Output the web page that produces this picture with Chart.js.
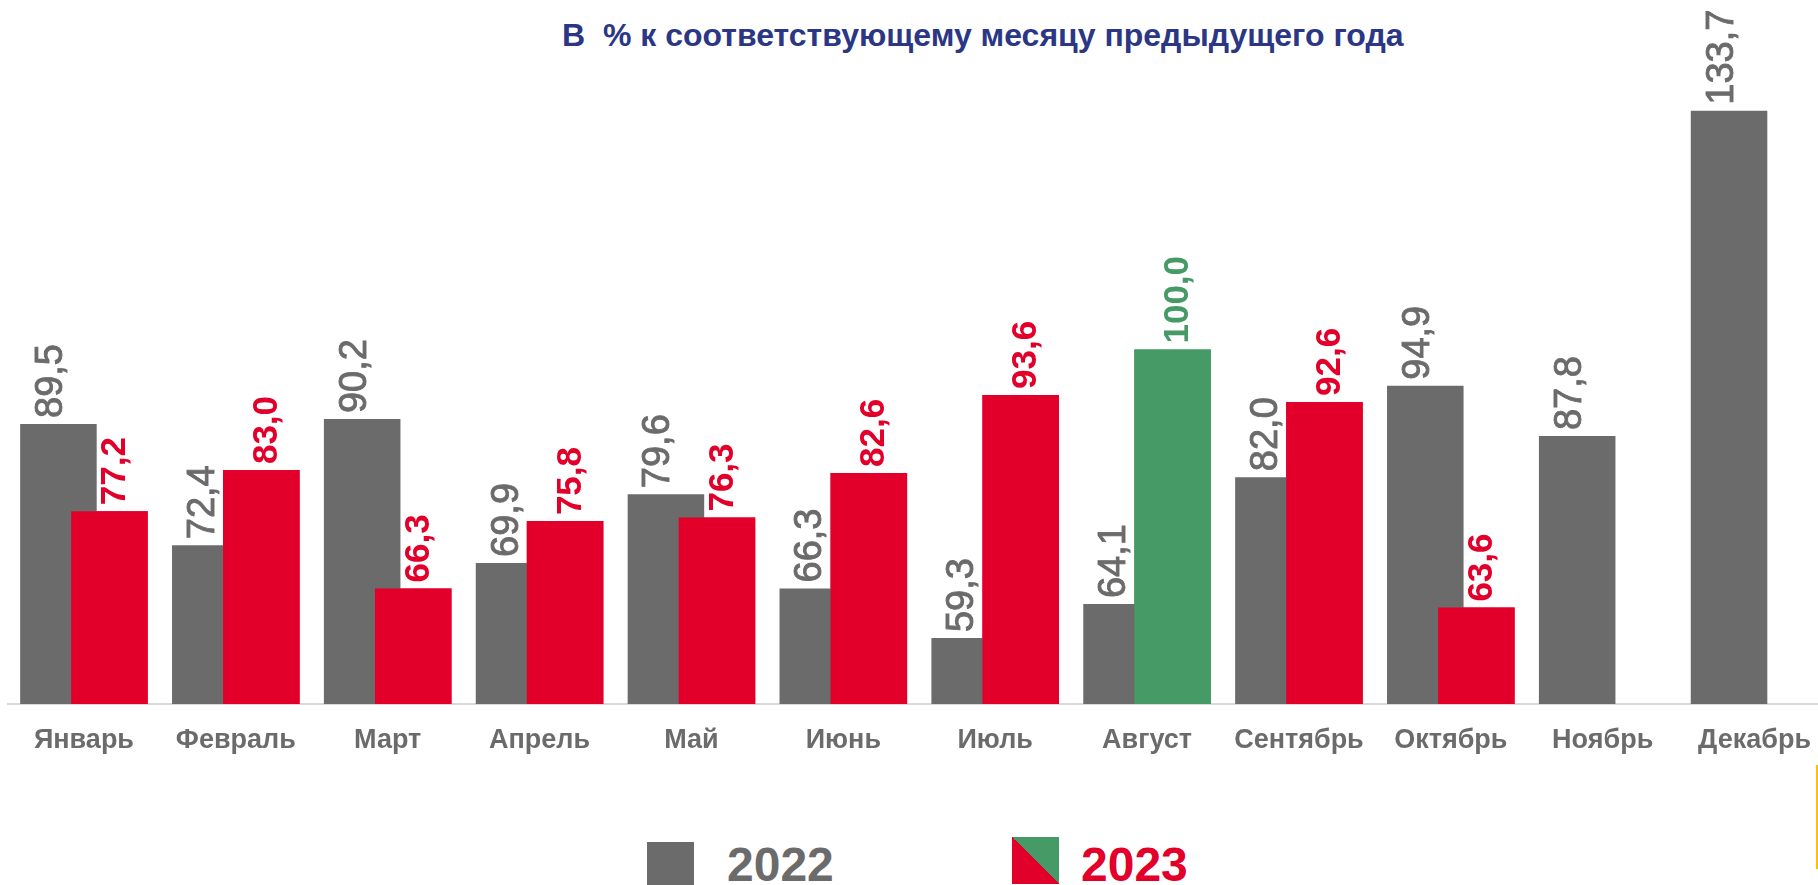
<!DOCTYPE html>
<html lang="ru">
<head>
<meta charset="utf-8">
<script src="https://cdn.jsdelivr.net/npm/chart.js@4"></script>
<style>
  html, body { margin: 0; padding: 0; background: #fff; overflow: hidden; width: 1818px; height: 885px; }
  body { position: relative; font-family: "Liberation Sans", Arial, sans-serif; }
  #wrap { position: absolute; left: 0; top: 0; width: 1831px; height: 774px; }
  #title { position: absolute; left: 562px; top: 19px; font-size: 32px; line-height: 32px; font-weight: bold; color: #2B3784; white-space: pre; }
  .leg-box { position: absolute; width: 47px; height: 47px; }
  .leg-text { position: absolute; font-size: 48px; line-height: 48px; font-weight: bold; }
  #edge { position: absolute; left: 1816px; top: 765px; width: 2px; height: 104px; background: #FFC000; }
</style>
</head>
<body>
<div id="title">В  % к соответствующему месяцу предыдущего года</div>
<div id="wrap"><canvas id="chart"></canvas></div>
<div class="leg-box" style="left:647px; top:842px; background:#6B6B6B;"></div>
<div class="leg-text" style="left:727px; top:841px; color:#6B6B6B;">2022</div>
<div class="leg-box" style="left:1012px; top:837px; background:linear-gradient(to top right, #E2002B 50%, #459A66 50%);"></div>
<div class="leg-text" style="left:1081px; top:841px; color:#E2002B;">2023</div>
<div id="edge"></div>
<script>
// ================= DATA =================
const months = ["Январь", "Февраль", "Март", "Апрель", "Май", "Июнь",
                "Июль", "Август", "Сентябрь", "Октябрь", "Ноябрь", "Декабрь"];
const values2022 = [89.5, 72.4, 90.2, 69.9, 79.6, 66.3, 59.3, 64.1, 82.0, 94.9, 87.8, 133.7];
const values2023 = [77.2, 83.0, 66.3, 75.8, 76.3, 82.6, 93.6, 100.0, 92.6, 63.6, null, null];
const highlightMonth = "Август";

// ================= COLORS =================
const GRAY = "#6B6B6B";
const RED = "#E2002B";
const GREEN = "#459A66";

const colors2023 = months.map(m => m === highlightMonth ? GREEN : RED);

function fmt(v) {
  return v.toFixed(1).replace(".", ",");
}

// red bars sit on top of the gray ones (overlap), clipped to the plot area
const redOnTop = {
  id: "redOnTop",
  afterDatasetsDraw(chart) {
    const a = chart.chartArea;
    const c = chart.ctx;
    c.save();
    c.beginPath();
    c.rect(a.left, a.top, a.right - a.left, a.bottom - a.top);
    c.clip();
    chart.getDatasetMeta(1).controller.draw();
    c.restore();
  }
};

// rotated value labels above bars
const valueLabels = {
  id: "valueLabels",
  afterDatasetsDraw(chart) {
    const ctx = chart.ctx;
    const sets = [
      { meta: chart.getDatasetMeta(0), data: values2022, font: "normal 38px", stroke: 0.9, shift: -7, color: () => GRAY },
      { meta: chart.getDatasetMeta(1), data: values2023, font: "bold 35px", stroke: 0, shift: 6, color: i => colors2023[i] }
    ];
    sets.forEach(s => {
      s.meta.data.forEach((bar, i) => {
        const v = s.data[i];
        if (v === null || v === undefined) return;
        ctx.save();
        ctx.translate(bar.x + s.shift, bar.y - 6);
        ctx.rotate(-Math.PI / 2);
        ctx.font = s.font + " 'Liberation Sans', Arial, sans-serif";
        ctx.fillStyle = s.color(i);
        ctx.textAlign = "left";
        ctx.textBaseline = "middle";
        ctx.fillText(fmt(v), 0, 0);
        if (s.stroke) {
          ctx.strokeStyle = s.color(i);
          ctx.lineWidth = s.stroke;
          ctx.strokeText(fmt(v), 0, 0);
        }
        ctx.restore();
      });
    });
  }
};

// ================= CHART =================
const ctx = document.getElementById("chart").getContext("2d");

new Chart(ctx, {
  type: "bar",
  data: {
    labels: months,
    datasets: [
      {
        label: "2022",
        data: values2022,
        backgroundColor: GRAY,
        categoryPercentage: 0.672,
        barPercentage: 1.5
      },
      {
        label: "2023",
        data: values2023,
        backgroundColor: colors2023,
        categoryPercentage: 0.672,
        barPercentage: 1.5
      }
    ]
  },
  options: {
    responsive: true,
    maintainAspectRatio: false,
    animation: false,
    layout: { padding: { left: 8, right: 0, top: 66, bottom: 0 } },
    plugins: {
      legend: { display: false },
      tooltip: { enabled: false }
    },
    scales: {
      x: {
        grid: { display: false, drawTicks: false },
        border: { display: true, color: "#D9D9D9", width: 2 },
        ticks: {
          color: GRAY,
          padding: 20,
          font: { family: "'Liberation Sans', Arial, sans-serif", size: 27, weight: "bold" }
        },
        afterFit: axis => { axis.height = 70; }
      },
      y: {
        display: false,
        min: 50,
        max: 140
      }
    }
  },
  plugins: [redOnTop, valueLabels]
});
</script>
</body>
</html>
